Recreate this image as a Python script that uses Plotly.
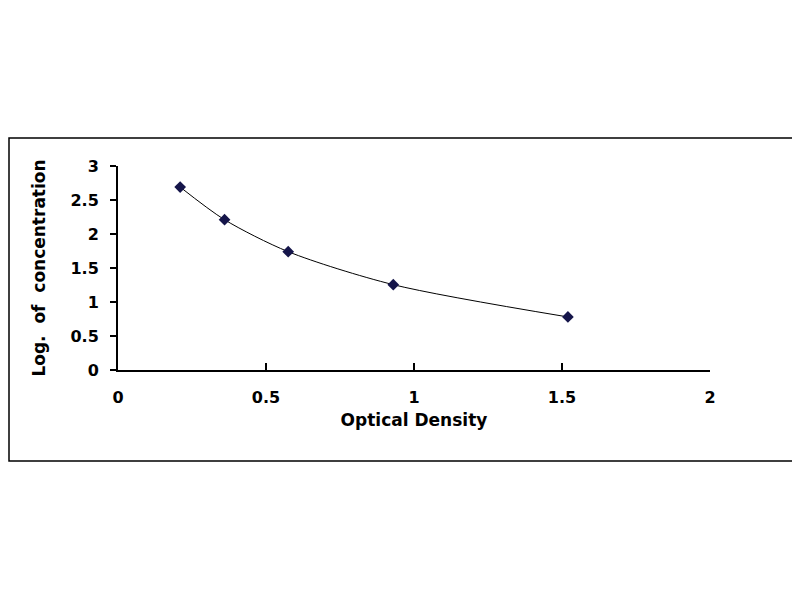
import plotly.graph_objects as go

# standard curve data
optical_density = [0.21, 0.36, 0.575, 0.93, 1.52]
log_conc = [2.69, 2.21, 1.74, 1.255, 0.78]

x_ticks = [0, 0.5, 1, 1.5, 2]
y_ticks = [0, 0.5, 1, 1.5, 2, 2.5, 3]

fig = go.Figure()
fig.add_trace(go.Scatter(
    x=optical_density, y=log_conc, mode="lines+markers",
    line=dict(color="black", width=1, shape="spline", smoothing=0.8),
    marker=dict(symbol="diamond", size=9, color="#15154a"),
    showlegend=False,
))

font = dict(family="DejaVu Sans", size=16, color="black", weight="bold")
title_font = dict(family="DejaVu Sans", size=17, color="black", weight="bold")

L, R, T, B = 110, 98, 158, 238

fig.update_layout(
    width=800, height=600,
    paper_bgcolor="white", plot_bgcolor="white",
    margin=dict(l=L, r=R, t=T, b=B),
    font=font,
    xaxis=dict(
        range=[0, 2], tickvals=x_ticks, ticktext=["0", "0.5", "1", "1.5", "2"],
        showgrid=False, zeroline=False, showline=True, linecolor="black", linewidth=2,
        ticks="inside", ticklen=7, tickwidth=2, tickcolor="black",
        ticklabelstandoff=12, tickfont=font,
        title=dict(text="Optical Density", standoff=8, font=title_font),
    ),
    yaxis=dict(
        range=[0, 3], tickvals=y_ticks, ticktext=["0", "0.5", "1", "1.5", "2", "2.5", "3"],
        showgrid=False, zeroline=False, showline=True, linecolor="black", linewidth=2,
        ticks="outside", ticklen=6, tickwidth=2, tickcolor="black",
        ticklabelstandoff=8, tickfont=font,
        title=dict(text="Log.  of  concentration", standoff=21, font=title_font),
    ),
)

# outer chart frame
pw, ph = 800 - L - R, 600 - T - B
fig.add_shape(
    type="rect", xref="paper", yref="paper",
    x0=(1 - L) / pw, x1=(790 - L) / pw,
    y0=(ph + T - 453) / ph, y1=(ph + T - 130) / ph,
    line=dict(color="black", width=1.5), fillcolor="rgba(0,0,0,0)",
)

fig.write_html("out.html")
